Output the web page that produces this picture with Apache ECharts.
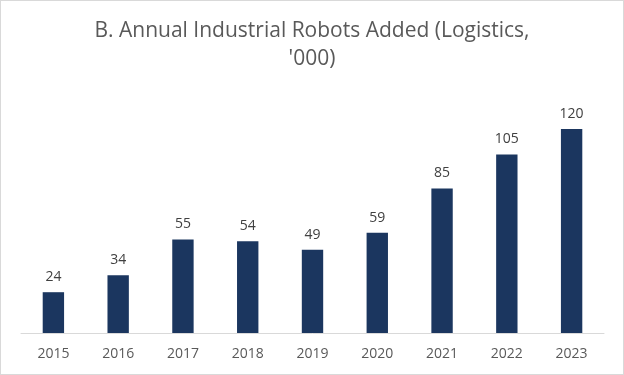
<!DOCTYPE html>
<html>
<head>
<meta charset="utf-8">
<script src="https://cdn.jsdelivr.net/npm/echarts@6/dist/echarts.min.js"></script>
<style>
  html, body { margin: 0; padding: 0; background: #fff; }
  #chart { width: 622px; height: 373px; border: 1px solid #d9d9d9; }
</style>
</head>
<body>
<div id="chart"></div>
<script>
// data
const years = ['2015', '2016', '2017', '2018', '2019', '2020', '2021', '2022', '2023'];
const robotsAdded = [24, 34, 55, 54, 49, 59, 85, 105, 120];

const myChart = echarts.init(document.getElementById('chart'));
myChart.setOption({
  animation: false,
  title: {
    text: "B. Annual Industrial Robots Added (Logistics,\n'000)",
    left: 'center',
    top: 11,
    textStyle: {
      fontFamily: 'Open Sans',
      fontSize: 21,
      fontWeight: 'normal',
      color: '#595959',
      lineHeight: 28
    }
  },
  grid: { left: 20, right: 19, top: 94, bottom: 41 },
  xAxis: {
    type: 'category',
    data: years,
    axisLine: { lineStyle: { color: '#d9d9d9' } },
    axisTick: { show: false },
    axisLabel: { color: '#595959', fontSize: 14, fontFamily: 'Open Sans', margin: 14 }
  },
  yAxis: {
    type: 'value',
    min: 0,
    max: 140,
    show: false,
    splitLine: { show: false }
  },
  series: [{
    type: 'bar',
    data: robotsAdded,
    barWidth: '33%',
    itemStyle: { color: '#1b365f' },
    label: {
      show: true,
      position: 'top',
      distance: 8,
      color: '#404040',
      fontSize: 14,
      fontFamily: 'Open Sans'
    }
  }]
});
</script>
</body>
</html>
